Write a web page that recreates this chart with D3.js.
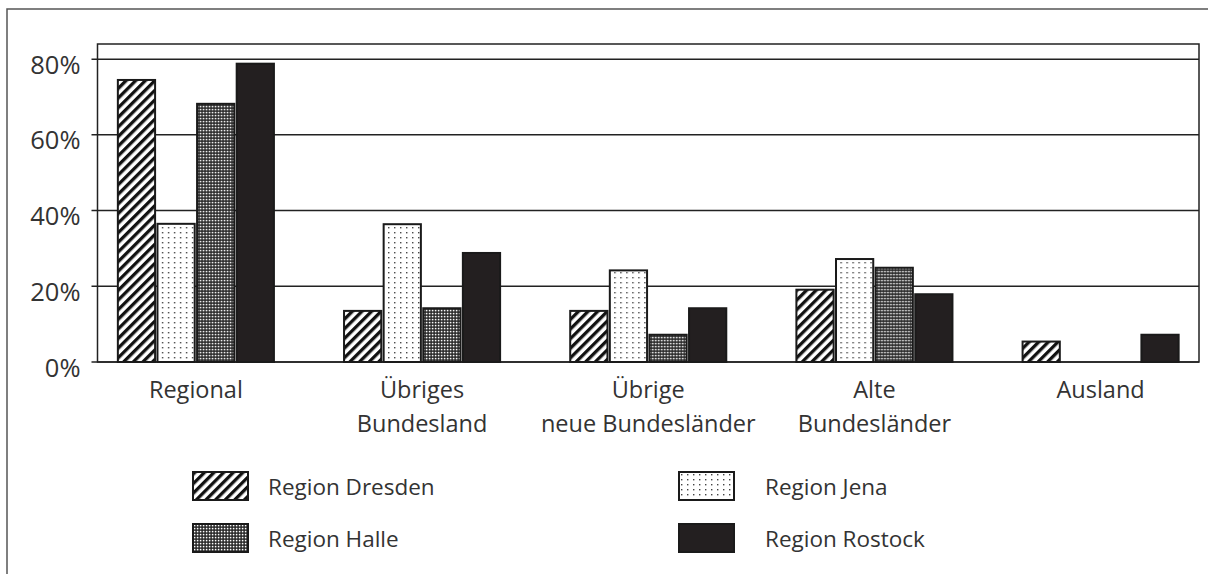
<!DOCTYPE html>
<html>
<head>
<meta charset="utf-8">
<script src="https://cdn.jsdelivr.net/npm/d3@7"></script>
<style>
  body { margin: 0; background: #fff; }
  svg text { font-family: "Open Sans", "Noto Sans", sans-serif; fill: #333; }
</style>
</head>
<body>
<div class="chart"></div>
<script>
// data
var categories = [['Regional'], ['Übriges', 'Bundesland'], ['Übrige', 'neue Bundesländer'], ['Alte', 'Bundesländer'], ['Ausland']];
var seriesNames = ['Region Dresden', 'Region Jena', 'Region Halle', 'Region Rostock'];
var dresden = [74.5, 13.5, 13.5, 19.1, 5.4];
var jena = [36.5, 36.4, 24.2, 27.2, 0];
var halle = [68.2, 14.2, 7.2, 24.9, 0];
var rostock = [78.8, 28.8, 14.2, 17.9, 7.2];
var yTicks = [0, 20, 40, 60, 80];

var seriesValues = [dresden, jena, halle, rostock];
var fills = ['url(#pDresden)', 'url(#pJena)', 'url(#pHalle)', '#231f20'];

var svgWidth = 1208, svgHeight = 574;
var plotLeft = 97.5, plotRight = 1199, plotTop = 44, plotBottom = 362;

var svg = d3.select('.chart').append('svg')
    .attr('width', svgWidth)
    .attr('height', svgHeight);

// 图案
var defs = svg.append('defs');
var p1 = defs.append('pattern').attr('id', 'pDresden')
    .attr('patternUnits', 'userSpaceOnUse')
    .attr('width', 6.8).attr('height', 6.8)
    .attr('patternTransform', 'rotate(45)');
p1.append('rect').attr('width', 6.8).attr('height', 6.8).attr('fill', '#fff');
p1.append('rect').attr('width', 3.3).attr('height', 6.8).attr('fill', '#111');

var p2 = defs.append('pattern').attr('id', 'pJena')
    .attr('patternUnits', 'userSpaceOnUse')
    .attr('width', 6).attr('height', 5);
p2.append('rect').attr('width', 6).attr('height', 5).attr('fill', '#fff');
p2.append('rect').attr('x', 2).attr('y', 2).attr('width', 1.4).attr('height', 1.4).attr('fill', '#444');

var p3 = defs.append('pattern').attr('id', 'pHalle')
    .attr('patternUnits', 'userSpaceOnUse')
    .attr('width', 3).attr('height', 3);
p3.append('rect').attr('width', 3).attr('height', 3).attr('fill', '#222');
p3.append('rect').attr('x', 0.8).attr('y', 0.8).attr('width', 1.6).attr('height', 1.6).attr('fill', '#fff');

// 外框
svg.append('rect')
    .attr('x', 7).attr('y', 9)
    .attr('width', 1300).attr('height', 700)
    .attr('fill', 'none')
    .attr('stroke', '#555')
    .attr('stroke-width', 1.5);

// 比例尺
var x0 = d3.scaleBand()
    .domain(d3.range(categories.length))
    .range([plotLeft, plotRight])
    .paddingInner(0.31)
    .paddingOuter(0.09);
var x1 = d3.scaleBand()
    .domain(d3.range(seriesNames.length))
    .range([0, x0.bandwidth()])
    .paddingInner(0.06);
var y = d3.scaleLinear()
    .domain([0, 84])
    .range([plotBottom, plotTop]);

// 分割线
svg.append('g')
    .selectAll('line')
    .data(yTicks)
    .enter()
    .append('line')
    .attr('x1', plotLeft - 6)
    .attr('x2', plotRight)
    .attr('y1', function(d) { return y(d); })
    .attr('y2', function(d) { return y(d); })
    .attr('stroke', '#222')
    .attr('stroke-width', 1.5);

// 图框
svg.append('rect')
    .attr('x', plotLeft).attr('y', plotTop)
    .attr('width', plotRight - plotLeft).attr('height', plotBottom - plotTop)
    .attr('fill', 'none')
    .attr('stroke', '#222')
    .attr('stroke-width', 1.5);

// y轴标签
var yAxis = d3.axisLeft(y)
    .tickValues(yTicks)
    .tickFormat(function(d) { return d + '%'; })
    .tickSize(0)
    .tickPadding(17);
var yg = svg.append('g')
    .attr('transform', 'translate(' + plotLeft + ',0)')
    .call(yAxis);
yg.select('.domain').remove();
yg.attr('font-family', null).attr('font-size', null);
yg.selectAll('text')
    .attr('dy', '0.55em')
    .style('font-size', '25.5px');

// 柱
var groups = svg.append('g')
    .selectAll('g')
    .data(categories)
    .enter()
    .append('g')
    .attr('transform', function(d, i) { return 'translate(' + x0(i) + ',0)'; });

groups.selectAll('rect')
    .data(function(d, i) {
        return seriesValues.map(function(s, k) { return { k: k, v: s[i] }; })
            .filter(function(e) { return e.v > 0; });
    })
    .enter()
    .append('rect')
    .attr('x', function(d) { return x1(d.k); })
    .attr('y', function(d) { return y(d.v); })
    .attr('width', x1.bandwidth())
    .attr('height', function(d) { return y(0) - y(d.v); })
    .attr('fill', function(d) { return fills[d.k]; })
    .attr('stroke', '#1a1a1a')
    .attr('stroke-width', 2);

// x轴标签
groups.append('text')
    .attr('x', x0.bandwidth() / 2)
    .attr('y', 398)
    .attr('text-anchor', 'middle')
    .style('font-size', '23.5px')
    .selectAll('tspan')
    .data(function(d) { return d; })
    .enter()
    .append('tspan')
    .attr('x', x0.bandwidth() / 2)
    .attr('dy', function(d, i) { return i === 0 ? 0 : 34; })
    .text(function(d) { return d; });

// 图例
var legendPos = [[193, 472], [679, 472], [193, 524], [679, 524]];
var legend = svg.append('g')
    .selectAll('g')
    .data(d3.range(seriesNames.length))
    .enter()
    .append('g')
    .attr('transform', function(d) { return 'translate(' + legendPos[d][0] + ',' + legendPos[d][1] + ')'; });
legend.append('rect')
    .attr('width', 55)
    .attr('height', 28)
    .attr('fill', function(d) { return fills[d]; })
    .attr('stroke', '#1a1a1a')
    .attr('stroke-width', 2);
legend.append('text')
    .attr('x', function(d) { return d % 2 === 0 ? 75 : 86; })
    .attr('y', 23)
    .style('font-size', '22.5px')
    .text(function(d) { return seriesNames[d]; });
</script>
</body>
</html>
